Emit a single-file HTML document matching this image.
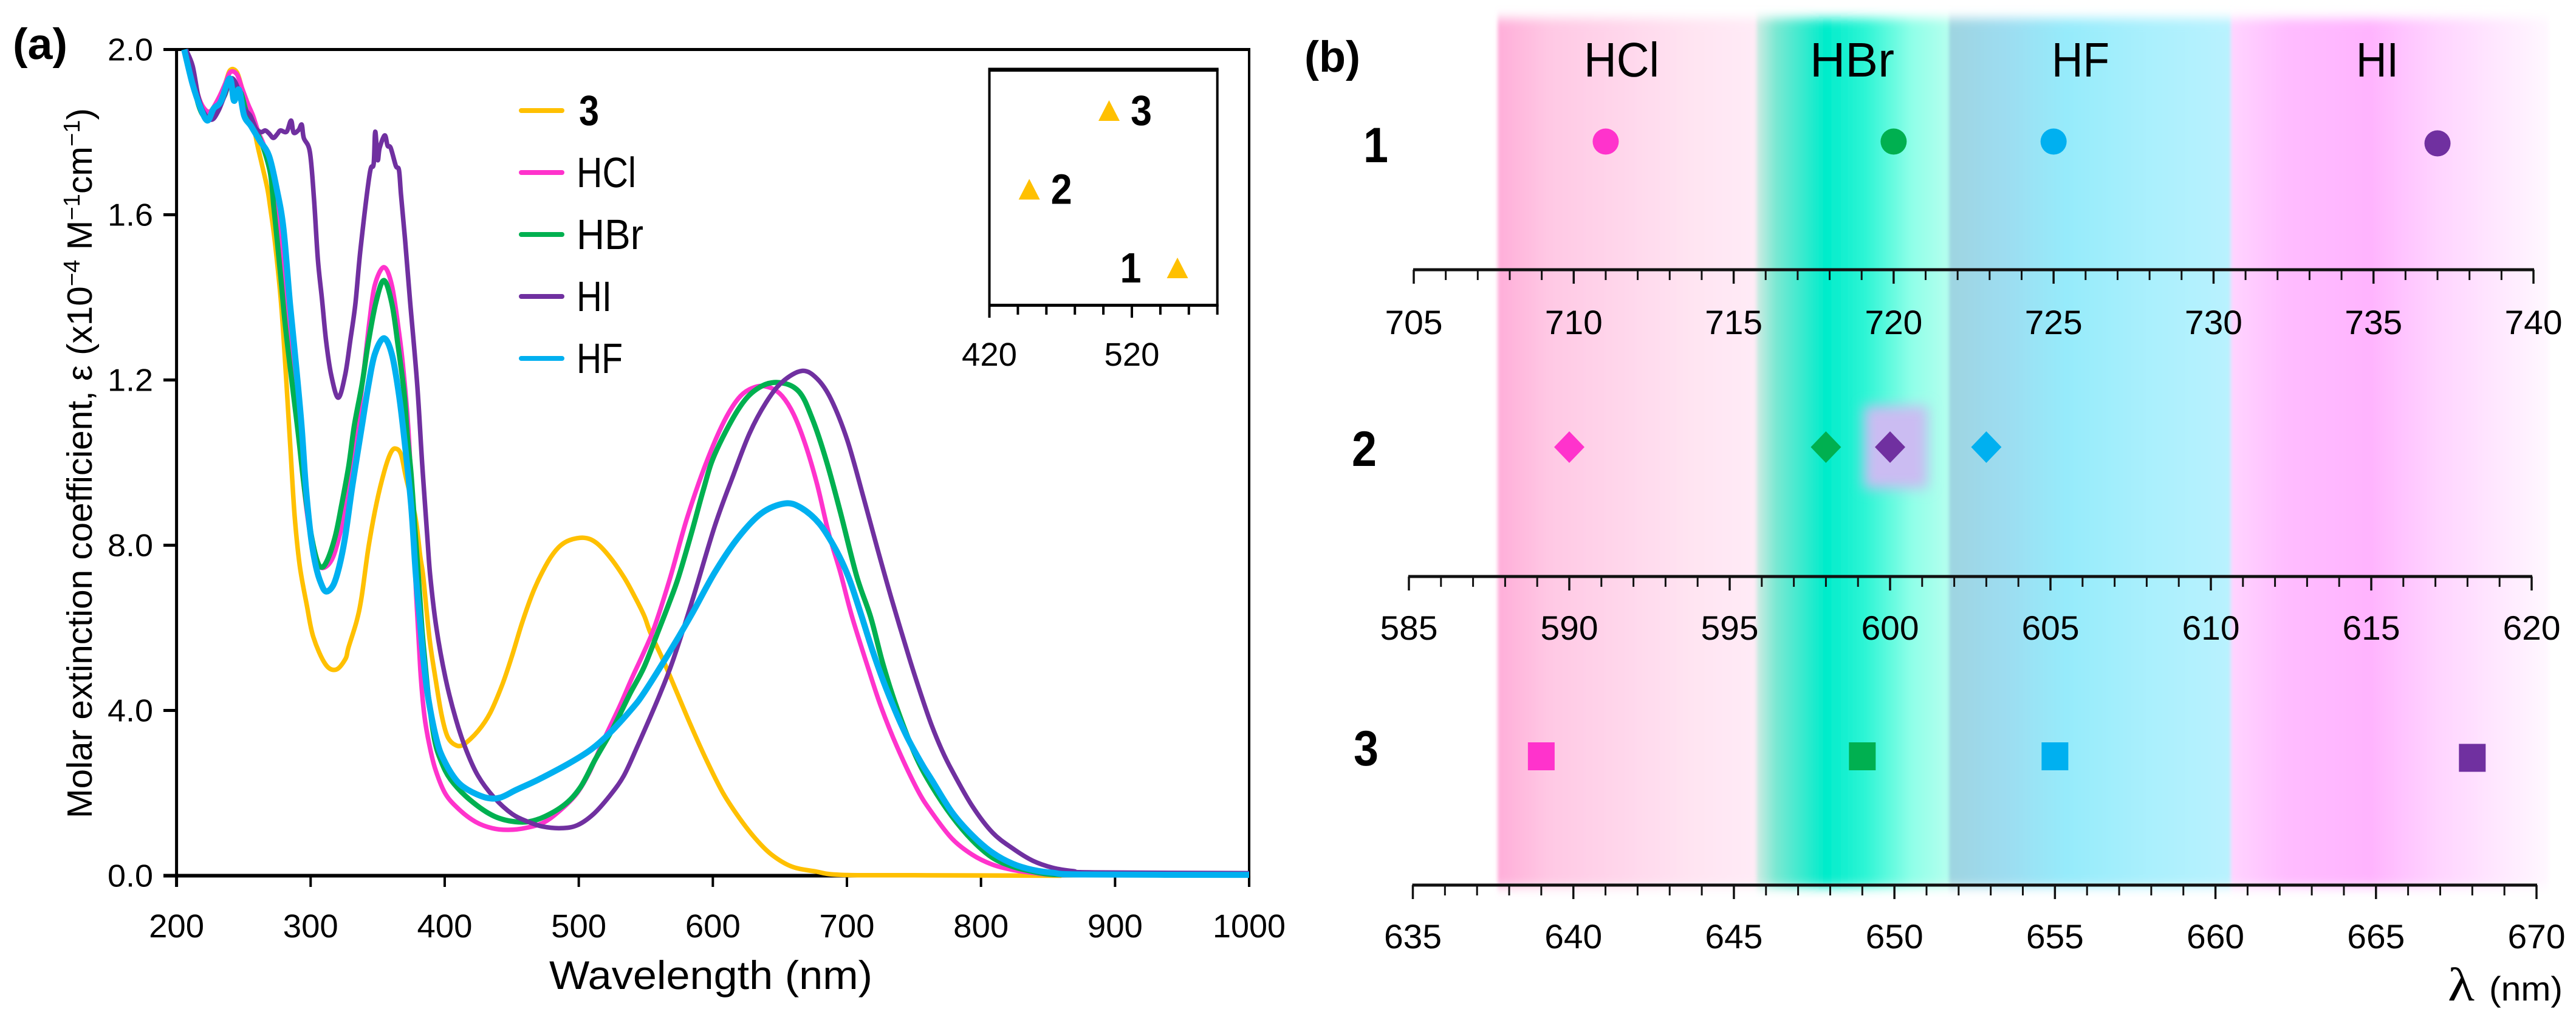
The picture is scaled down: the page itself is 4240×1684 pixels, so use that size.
<!DOCTYPE html>
<html lang="en">
<head>
<meta charset="utf-8">
<title>Molar extinction spectra and emission shifts</title>
<style>
html,body{margin:0;padding:0;background:#fff;}
svg{display:block;}
text{font-family:"Liberation Sans",sans-serif;fill:#000;text-rendering:geometricPrecision;}
</style>
</head>
<body>
<svg id="figure" xmlns="http://www.w3.org/2000/svg" width="4240" height="1684" viewBox="0 0 4240 1684">
  <defs>
    <linearGradient id="gradHCl" gradientUnits="userSpaceOnUse" x1="2465" x2="2891" y1="0" y2="0">
      <stop offset="0" stop-color="#ffaed9"/><stop offset="0.2" stop-color="#ffc8e4"/><stop offset="0.75" stop-color="#ffe4f2"/><stop offset="1" stop-color="#ffebf6"/>
    </linearGradient>
    <linearGradient id="gradHBr" gradientUnits="userSpaceOnUse" x1="2891" x2="3208" y1="0" y2="0">
      <stop offset="0" stop-color="#d0ebe4"/><stop offset="0.1" stop-color="#7be8d2"/><stop offset="0.36" stop-color="#00eccb"/><stop offset="0.57" stop-color="#2ff5d5"/><stop offset="0.81" stop-color="#90ffe8"/><stop offset="1" stop-color="#b5ffee"/>
    </linearGradient>
    <linearGradient id="gradHF" gradientUnits="userSpaceOnUse" x1="3208" x2="3672" y1="0" y2="0">
      <stop offset="0" stop-color="#9ed4e0"/><stop offset="0.19" stop-color="#9ddcf0"/><stop offset="0.42" stop-color="#96ebfb"/><stop offset="0.71" stop-color="#aaf0fd"/><stop offset="1" stop-color="#b9f2fe"/>
    </linearGradient>
    <linearGradient id="gradHI" gradientUnits="userSpaceOnUse" x1="3672" x2="4195" y1="0" y2="0">
      <stop offset="0" stop-color="#ffd4ff"/><stop offset="0.18" stop-color="#ffbcff"/><stop offset="0.44" stop-color="#ffb4fe"/><stop offset="0.65" stop-color="#ffd4ff"/><stop offset="1" stop-color="#fff8ff"/>
    </linearGradient>
    <filter id="bandBlur" filterUnits="userSpaceOnUse" x="2400" y="0" width="1840" height="1560"><feGaussianBlur stdDeviation="3 9"/></filter>
    <filter id="spotBlur" filterUnits="userSpaceOnUse" x="3000" y="600" width="240" height="280"><feGaussianBlur stdDeviation="11"/></filter>
  </defs>

  <g id="panel-a">
    <g id="a-axes"></g>
    <g id="a-series"></g>
    <text x="21" y="97" font-size="72" font-weight="bold" textLength="90" lengthAdjust="spacingAndGlyphs">(a)</text>
    <text transform="translate(151,1347) rotate(-90)" font-size="58" textLength="1169" lengthAdjust="spacingAndGlyphs">Molar extinction coefficient, ε (x10<tspan font-size="38" dy="-20">−4</tspan><tspan dy="20"> M</tspan><tspan font-size="38" dy="-20">−1</tspan><tspan dy="20">cm</tspan><tspan font-size="38" dy="-20">−1</tspan><tspan dy="20">)</tspan></text>
    <text x="904" y="1628" font-size="66" textLength="532" lengthAdjust="spacingAndGlyphs">Wavelength (nm)</text>
    <g id="a-legend"></g>
    <g id="inset"></g>
  </g>

  <g id="panel-b">
    <g id="bands" filter="url(#bandBlur)">
      <rect x="2465" y="30" width="426" height="1430" fill="url(#gradHCl)"/>
      <rect x="2891" y="30" width="317" height="1430" fill="url(#gradHBr)"/>
      <rect x="3208" y="30" width="464" height="1430" fill="url(#gradHF)"/>
      <rect x="3672" y="30" width="523" height="1430" fill="url(#gradHI)"/>
    </g>
    <rect x="3068" y="668" width="105" height="136" fill="#cbbcf2" filter="url(#spotBlur)"/>
    <text x="2147" y="118" font-size="72" font-weight="bold" textLength="92" lengthAdjust="spacingAndGlyphs">(b)</text>
    <text x="2607" y="126" font-size="80" textLength="124" lengthAdjust="spacingAndGlyphs">HCl</text>
    <text x="2979" y="126" font-size="80" textLength="139" lengthAdjust="spacingAndGlyphs">HBr</text>
    <text x="3377" y="126" font-size="80" textLength="95" lengthAdjust="spacingAndGlyphs">HF</text>
    <text x="3878" y="126" font-size="80" textLength="70" lengthAdjust="spacingAndGlyphs">HI</text>
    <text x="2244" y="267" font-size="82" font-weight="bold" textLength="41" lengthAdjust="spacingAndGlyphs">1</text>
    <text x="2225" y="767" font-size="82" font-weight="bold" textLength="41" lengthAdjust="spacingAndGlyphs">2</text>
    <text x="2228" y="1260" font-size="82" font-weight="bold" textLength="41" lengthAdjust="spacingAndGlyphs">3</text>
    <g id="b-axes"></g>
    <g id="b-markers"></g>
    <text x="4029" y="1647" font-size="78" style="font-family:'Liberation Serif',serif" textLength="44" lengthAdjust="spacingAndGlyphs">λ</text>
    <text x="4097" y="1647" font-size="56" textLength="121" lengthAdjust="spacingAndGlyphs">(nm)</text>
  </g>
</svg>
<script>
/* ---------- Panel (a): absorption spectra ---------- */
const xTicks = [200,300,400,500,600,700,800,900,1000];
const yTicks = [0,0.4,0.8,1.2,1.6,2.0];
const yTickLabels = ["0.0","4.0","8.0","1.2","1.6","2.0"];

const wl3 = [207,212,216,220,225,231,236,240,245,249,253,256,260.1,263.2,267.7,270,273.5,278,282,285,288.1,291.9,297.2,302,311,319,326,328.1,334.2,338,343.2,349.3,355.3,359.8,363.3,367.4,371.2,378,381.8,384,388.6,393.1,397.7,402.2,408.2,414.3,424.8,433.9,443,450.5,458,467,477,485,493,504,513,523,533.6,541,548.7,553.2,562.2,571.3,583.4,595.5,607.6,619.7,631.7,643.8,658.9,677,695.2,750,860];
const eps3 = [2.0,1.95,1.89,1.86,1.85,1.88,1.915,1.95,1.945,1.905,1.87,1.84,1.772,1.728,1.664,1.615,1.53,1.385,1.19,1.03,0.87,0.75,0.654,0.578,0.512,0.499,0.525,0.551,0.615,0.674,0.796,0.904,0.983,1.024,1.034,1.02,0.963,0.87,0.772,0.723,0.576,0.478,0.389,0.336,0.316,0.318,0.35,0.394,0.463,0.535,0.615,0.695,0.76,0.795,0.812,0.818,0.806,0.772,0.723,0.68,0.63,0.59,0.527,0.458,0.365,0.278,0.2,0.14,0.09,0.051,0.022,0.01,0.002,0.001,0.0];

const wlHCl = [207,212,216,220,225,231,236,240,245,249,253,257,261,265,269,272,276,279,282,285.8,289.6,294.1,298.7,303.2,308.5,315.3,320.6,325.7,331.1,335,340.2,344,347.8,354.6,360.6,365.9,368.8,372.7,375.4,378.7,381.8,384.8,388.6,393.1,400.6,411.2,423.2,435.4,447.5,461.1,474.6,488.2,498.8,507.9,518.5,530.5,539.6,548.7,556.2,568.3,580.7,594.5,608.4,620.6,632.7,643.1,651.7,660.4,669.1,677.8,686.4,695.1,703.8,716.3,725.4,737.5,752.6,763.1,778.3,793.4,808.4,823.6,838.7,853.7,880];
const epsHCl = [2.0,1.95,1.89,1.86,1.85,1.88,1.915,1.945,1.94,1.905,1.87,1.84,1.80,1.77,1.73,1.69,1.59,1.50,1.40,1.286,1.139,0.968,0.845,0.767,0.745,0.762,0.811,0.885,0.992,1.09,1.237,1.345,1.429,1.473,1.429,1.316,1.237,1.09,0.92,0.68,0.50,0.389,0.316,0.257,0.198,0.159,0.13,0.115,0.111,0.116,0.13,0.164,0.2,0.25,0.328,0.41,0.478,0.542,0.6,0.723,0.865,0.995,1.10,1.161,1.184,1.181,1.161,1.116,1.043,0.947,0.829,0.734,0.627,0.498,0.409,0.311,0.208,0.154,0.09,0.051,0.027,0.014,0.007,0.002,0.001];

const wlHBr = [207,212,216,220,225,231,236,240,244,248,252,256,260,265,270,272.5,275,278,281,285.5,290.4,294.9,299.4,304,307.7,312.2,318.3,322.9,328.4,332.6,338.3,342.8,348.5,354.6,360.6,365.1,369.7,372,375,378,380.5,383,385,388,392.3,397,404.4,418.7,436.9,455,470.1,488.2,501,512.4,525.2,538.1,548.7,559.3,566.8,574.4,584.1,593,601.4,618.8,632.7,648.3,663.9,674.3,684.7,695.1,707.3,717.8,726.9,737.5,751.1,763.1,778.3,793.4,808.4,823.6,838.7,853.7,880];
const epsHBr = [2.0,1.93,1.87,1.84,1.835,1.86,1.89,1.925,1.90,1.895,1.85,1.83,1.80,1.76,1.70,1.62,1.54,1.44,1.335,1.21,1.08,0.95,0.845,0.772,0.747,0.762,0.821,0.894,0.992,1.09,1.189,1.286,1.385,1.441,1.385,1.286,1.17,1.07,0.97,0.83,0.72,0.60,0.527,0.43,0.331,0.28,0.233,0.184,0.144,0.13,0.137,0.169,0.213,0.282,0.355,0.44,0.505,0.592,0.655,0.723,0.83,0.935,1.02,1.128,1.178,1.194,1.173,1.105,1.004,0.88,0.725,0.625,0.512,0.404,0.291,0.218,0.144,0.086,0.044,0.022,0.01,0.003,0.002];

const wlHI = [207,212,216,220,226,231,236,241,246,250,255,259,263,266.2,269.2,272.2,275.3,277.5,282.1,285.4,287.3,291,293.4,294.9,299.4,302.5,305.4,308.5,311.5,315.3,320.6,325.8,329.6,333.4,337.2,344,347,348.2,350,351.5,355.3,357.4,359.7,363.6,365.9,367.4,370.4,374.2,379.5,383.3,387,389.3,393.8,400.6,408.2,415.7,424.8,436.9,450.5,462.6,473.1,486.7,498.8,510.9,523,533.6,544.1,559.2,569.8,584.1,601.4,615.3,627.4,639.6,651.7,666.5,677.8,688.2,700.3,712.5,722.9,733.3,746.5,755.6,763.1,770.7,778.3,793.4,808.4,823.6,838.7,853.7,868.9,884,1000];
const epsHI = [2.0,1.96,1.89,1.85,1.83,1.85,1.89,1.93,1.905,1.86,1.84,1.81,1.80,1.804,1.796,1.786,1.796,1.804,1.801,1.828,1.799,1.805,1.818,1.786,1.752,1.639,1.492,1.395,1.295,1.213,1.157,1.213,1.296,1.385,1.517,1.698,1.723,1.801,1.733,1.762,1.792,1.767,1.762,1.718,1.708,1.649,1.542,1.39,1.189,0.992,0.821,0.723,0.60,0.478,0.38,0.307,0.242,0.189,0.149,0.13,0.119,0.115,0.122,0.149,0.193,0.242,0.316,0.429,0.517,0.66,0.846,0.97,1.071,1.145,1.195,1.222,1.203,1.153,1.054,0.914,0.79,0.67,0.527,0.435,0.365,0.305,0.255,0.169,0.105,0.066,0.036,0.019,0.011,0.008,0.006];

const wlHF = [205.7,211.8,217.9,223,227.7,233,239.7,242.8,246.5,250.4,255.5,261.7,269,275,279.8,284.6,289.1,293.2,296.4,300.2,304,307.7,311.5,316.8,321.3,325.8,331.1,338.3,343.2,347.8,354.6,360.6,365.9,370.4,375,378.3,381.3,384,387.8,393.8,399.1,408.2,417.3,430.8,441.3,453.5,470.1,492.8,509.4,523,539.6,548.7,566.7,584.1,601.4,618.8,636.1,653.5,665.6,679.5,691.6,701.2,710.3,719.4,729.9,743.5,755.6,763.1,778.3,793.4,808.4,823.6,838.7,853.7,876.3,1000];
const epsHF = [2.0,1.918,1.859,1.828,1.857,1.874,1.93,1.876,1.903,1.84,1.815,1.781,1.742,1.658,1.565,1.385,1.237,1.09,0.943,0.821,0.748,0.708,0.688,0.703,0.748,0.821,0.943,1.09,1.189,1.262,1.301,1.262,1.164,1.042,0.895,0.735,0.625,0.527,0.429,0.331,0.282,0.233,0.208,0.189,0.189,0.208,0.233,0.272,0.306,0.345,0.404,0.443,0.536,0.632,0.734,0.818,0.877,0.901,0.891,0.852,0.79,0.723,0.635,0.542,0.448,0.345,0.272,0.233,0.154,0.098,0.056,0.029,0.014,0.007,0.003,0.002];

const insetTicks = [420,440,460,480,500,520,540,560,580];
const insetTickLabels = ["420","520"];
const insetPeaks = [552,448,504];
const insetNames = ["1","2","3"];

/* ---------- Panel (b): emission positions ---------- */
const scale1Ticks = [705,710,715,720,725,730,735,740];
const scale2Ticks = [585,590,595,600,605,610,615,620];
const scale3Ticks = [635,640,645,650,655,660,665,670];
const emission1 = [711,720,725,737];
const emission2 = [590,598,600,603];
const emission3 = [639,649,655,668];

const SVGNS = "http://www.w3.org/2000/svg";
const COL = {c3:"#FFC000",hcl:"#FF33CC",hbr:"#00B050",hi:"#7030A0",hf:"#00B0F0"};
const markerColours = [COL.hcl,COL.hbr,COL.hf,COL.hi];
const markerColours2 = [COL.hcl,COL.hbr,COL.hi,COL.hf];

function make(tag,parent,attrs){
  const el = document.createElementNS(SVGNS,tag);
  for(const k in attrs){ el.setAttribute(k,attrs[k]); }
  parent.appendChild(el);
  return el;
}
const px = nm => 290.6 + (nm-200)*2.2068;
const py = v => 1441.5 - v*680;

function smoothPath(xs,ys){
  let d = "M"+xs[0].toFixed(1)+" "+ys[0].toFixed(1);
  for(let i=0;i<xs.length-1;i++){
    const i0=Math.max(i-1,0), i3=Math.min(i+2,xs.length-1);
    const c1x=xs[i]+(xs[i+1]-xs[i0])/6, c1y=ys[i]+(ys[i+1]-ys[i0])/6;
    const c2x=xs[i+1]-(xs[i3]-xs[i])/6, c2y=ys[i+1]-(ys[i3]-ys[i])/6;
    d+=" C"+c1x.toFixed(1)+" "+c1y.toFixed(1)+" "+c2x.toFixed(1)+" "+c2y.toFixed(1)+" "+xs[i+1].toFixed(1)+" "+ys[i+1].toFixed(1);
  }
  return d;
}

/* axes of panel (a) */
const aAxes = document.getElementById("a-axes");
const frameTop = make("line",aAxes,{x1:269,x2:2058,y1:py(2),y2:py(2),stroke:"#000","stroke-width":5});


const frameBottom = make("line",aAxes,{x1:269,x2:2058,y1:py(0),y2:py(0),stroke:"#000","stroke-width":6});


const frameLeft = make("line",aAxes,{x1:px(200),x2:px(200),y1:py(2)-2,y2:1460,stroke:"#000","stroke-width":5});


const frameRight = make("line",aAxes,{x1:px(1000),x2:px(1000),y1:py(2)-2,y2:1460,stroke:"#000","stroke-width":4});



xTicks.forEach(function(t){
  const tick = make("line",aAxes,{x1:px(t),x2:px(t),y1:py(0),y2:1460,stroke:"#000","stroke-width":4});
  
  
  const lab = make("text",aAxes,{x:px(t),y:1543,"font-size":54,"text-anchor":"middle",textLength:String(t).length>3?120:91,lengthAdjust:"spacingAndGlyphs"});
  
  
  lab.textContent = t;
});
yTicks.forEach(function(t,i){
  const tick = make("line",aAxes,{x1:269,x2:px(200),y1:py(t),y2:py(t),stroke:"#000","stroke-width":5});
  
  
  const lab = make("text",aAxes,{x:252,y:py(t)+18,"font-size":52,"text-anchor":"end",textLength:75,lengthAdjust:"spacingAndGlyphs"});
  
  
  lab.textContent = yTickLabels[i];
});

/* spectra */
const aSeries = document.getElementById("a-series");
function drawSeries(name,wl,eps,colour,width){
  const path = make("path",aSeries,{d:smoothPath(wl.map(px),eps.map(py)),fill:"none",stroke:colour,"stroke-width":width,"stroke-linejoin":"round"});
  
  
}
drawSeries("series-compound-3",wl3,eps3,COL.c3,7.5);
drawSeries("series-hcl",wlHCl,epsHCl,COL.hcl,7.5);
drawSeries("series-hbr",wlHBr,epsHBr,COL.hbr,8.5);
drawSeries("series-hi",wlHI,epsHI,COL.hi,7.5);
drawSeries("series-hf",wlHF,epsHF,COL.hf,10);

/* legend */
const legendNames = ["3","HCl","HBr","HI","HF"];
const legendColours = [COL.c3,COL.hcl,COL.hbr,COL.hi,COL.hf];
const legendWidths = [33,98,110,58,76];
const legendG = document.getElementById("a-legend");
legendNames.forEach(function(n,i){
  const ly = 182 + i*102;
  const sw = make("line",legendG,{x1:858,x2:925,y1:ly,y2:ly,stroke:legendColours[i],"stroke-width":8,"stroke-linecap":"round"});
  
  
  const tx = make("text",legendG,{x:i===0?953:949,y:ly+24,"font-size":70,"font-weight":i===0?"bold":"normal",textLength:legendWidths[i],lengthAdjust:"spacingAndGlyphs"});
  
  
  tx.textContent = n;
});

/* inset */
const inset = document.getElementById("inset");
const ix = nm => 1628.5 + (nm-420)*2.345;
const insetRow = i => 441 - i*129.5;
const insetFrame = make("rect",inset,{x:ix(420),y:116,width:ix(580)-ix(420),height:386,fill:"none",stroke:"#000","stroke-width":4});


const insetTop = make("line",inset,{x1:ix(420)-2,x2:ix(580)+2,y1:114,y2:114,stroke:"#000","stroke-width":5});


const insetBottom = make("line",inset,{x1:ix(420)-2,x2:ix(580)+2,y1:502.5,y2:502.5,stroke:"#000","stroke-width":5});


insetTicks.forEach(function(t){
  const major = insetTickLabels.indexOf(String(t))>=0;
  const tk = make("line",inset,{x1:ix(t),x2:ix(t),y1:502,y2:major?523:518,stroke:"#000","stroke-width":4});
  
  
});
insetTickLabels.forEach(function(l){
  const lab = make("text",inset,{x:ix(+l),y:602,"font-size":54,"text-anchor":"middle",textLength:91,lengthAdjust:"spacingAndGlyphs"});
  
  
  lab.textContent = l;
});
insetPeaks.forEach(function(p,i){
  const cx = ix(p), cy = insetRow(i);
  const tri = make("polygon",inset,{points:(cx-17.5)+","+(cy+17)+" "+cx+","+(cy-17)+" "+(cx+17.5)+","+(cy+17),fill:COL.c3});
  
  
  const labelX = i===0 ? cx-77 : cx+53;
  const lab = make("text",inset,{x:labelX,y:cy+24,"font-size":70,"font-weight":"bold","text-anchor":"middle",textLength:35,lengthAdjust:"spacingAndGlyphs"});
  
  
  lab.textContent = insetNames[i];
});

/* panel (b) scales */
const bAxes = document.getElementById("b-axes");
const bMarkers = document.getElementById("b-markers");
function makeScale(ticks,left,right,lineY,labelY){
  const lo = ticks[0], hi = ticks[ticks.length-1];
  const sx = v => left + (v-lo)*(right-left)/(hi-lo);
  const axis = make("line",bAxes,{x1:left-1,x2:right+1,y1:lineY,y2:lineY,stroke:"#111","stroke-width":5});
  
  
  for(let v=lo;v<=hi;v++){
    const major = (v-lo)%5===0;
    const tk = make("line",bAxes,{x1:sx(v),x2:sx(v),y1:lineY,y2:lineY+(major?23:17),stroke:"#111","stroke-width":major?3.5:3});
    
    
  }
  ticks.forEach(function(t){
    const lab = make("text",bAxes,{x:sx(t),y:labelY,"font-size":56,"text-anchor":"middle",textLength:95,lengthAdjust:"spacingAndGlyphs"});
    
    
    lab.textContent = t;
  });
  return sx;
}
const sx1 = makeScale(scale1Ticks,2327,4170,444,550);
const sx2 = makeScale(scale2Ticks,2319,4167,949,1053);
const sx3 = makeScale(scale3Ticks,2325.5,4175,1457,1561);

emission1.forEach(function(v,i){
  const c = make("circle",bMarkers,{cx:sx1(v),cy:i===3?236:233,r:21.5,fill:markerColours[i]});
  
  
});
emission2.forEach(function(v,i){
  const x = sx2(v), y = 736;
  const d = make("polygon",bMarkers,{points:(x-25)+","+y+" "+x+","+(y-26)+" "+(x+25)+","+y+" "+x+","+(y+26),fill:markerColours2[i]});
  
  
});
emission3.forEach(function(v,i){
  const y = i===3?1247.5:1245;
  const s = make("rect",bMarkers,{x:sx3(v)-22,y:y-23,width:44,height:46,fill:markerColours[i]});
  
  
});
</script>
</body>
</html>
